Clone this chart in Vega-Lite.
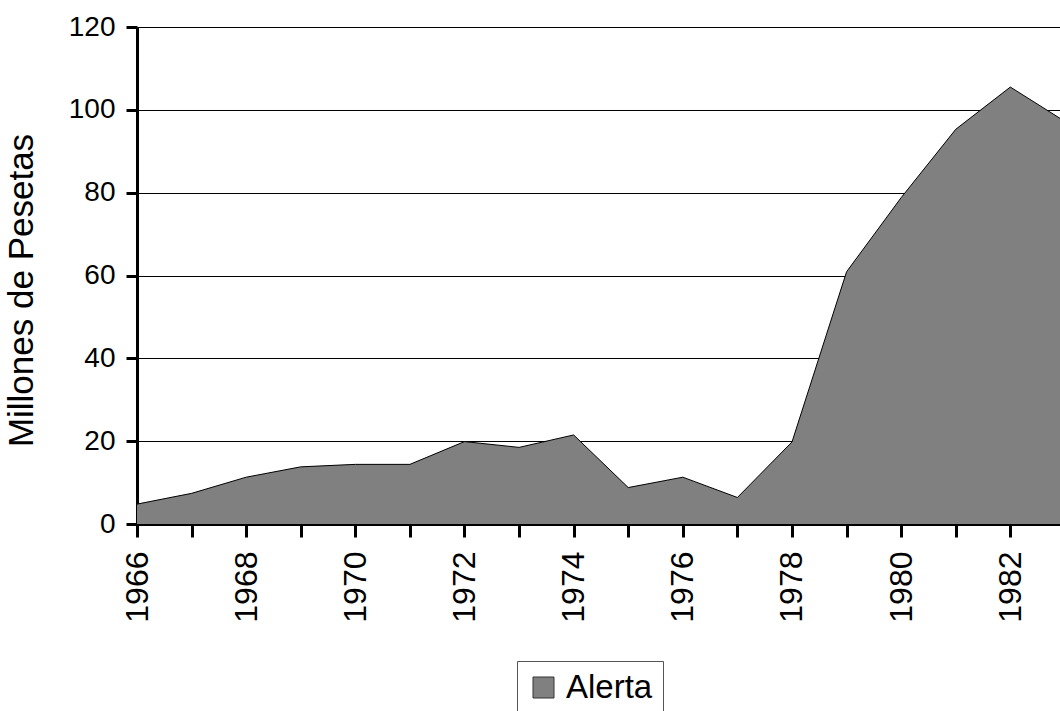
{
  "$schema": "https://vega.github.io/schema/vega-lite/v6.json",
  "autosize": {"type": "none"},
  "padding": {"left": 137, "top": 27, "right": 0, "bottom": 187},
  "width": 923,
  "height": 497,
  "background": "white",
  "config": {
    "view": {"stroke": null},
    "font": "Liberation Sans"
  },
  "data": {
    "values": [
      {"year": 1966, "value": 4.8, "serie": "Alerta"},
      {"year": 1967, "value": 7.4, "serie": "Alerta"},
      {"year": 1968, "value": 11.3, "serie": "Alerta"},
      {"year": 1969, "value": 13.8, "serie": "Alerta"},
      {"year": 1970, "value": 14.4, "serie": "Alerta"},
      {"year": 1971, "value": 14.4, "serie": "Alerta"},
      {"year": 1972, "value": 19.9, "serie": "Alerta"},
      {"year": 1973, "value": 18.5, "serie": "Alerta"},
      {"year": 1974, "value": 21.5, "serie": "Alerta"},
      {"year": 1975, "value": 8.8, "serie": "Alerta"},
      {"year": 1976, "value": 11.3, "serie": "Alerta"},
      {"year": 1977, "value": 6.4, "serie": "Alerta"},
      {"year": 1978, "value": 19.8, "serie": "Alerta"},
      {"year": 1979, "value": 60.9, "serie": "Alerta"},
      {"year": 1980, "value": 78.8, "serie": "Alerta"},
      {"year": 1981, "value": 95.3, "serie": "Alerta"},
      {"year": 1982, "value": 105.5, "serie": "Alerta"},
      {"year": 1983, "value": 97.2, "serie": "Alerta"}
    ]
  },
  "encoding": {
    "x": {
      "field": "year",
      "type": "quantitative",
      "scale": {"domain": [1966, 1982.91], "nice": false, "zero": false},
      "axis": {
        "title": null,
        "values": [1966,1967,1968,1969,1970,1971,1972,1973,1974,1975,1976,1977,1978,1979,1980,1981,1982],
        "format": "d",
        "labelExpr": "datum.value % 2 == 0 ? datum.label : ''",
        "labelAngle": -90,
        "labelAlign": "right",
        "labelBaseline": "middle",
        "labelFontSize": 32,
        "labelColor": "black",
        "labelPadding": 14,
        "labelFont": "Liberation Sans",
        "labelOverlap": false,
        "labelFlush": false,
        "grid": false,
        "domainColor": "black",
        "domainWidth": 3,
        "tickColor": "black",
        "tickWidth": 3,
        "tickSize": 13
      }
    },
    "y": {
      "field": "value",
      "type": "quantitative",
      "scale": {"domain": [0, 120], "nice": false},
      "axis": {
        "title": "Millones de Pesetas",
        "titleFontSize": 35,
        "titleFontWeight": "normal",
        "titleColor": "black",
        "titleFont": "Liberation Sans",
        "titleAngle": -90,
        "titleAlign": "center",
        "titleBaseline": "alphabetic",
        "titleX": -105,
        "titleY": 263,
        "values": [0, 20, 40, 60, 80, 100, 120],
        "labelFontSize": 28,
        "labelColor": "black",
        "labelPadding": 11,
        "labelFont": "Liberation Sans",
        "labelFlush": false,
        "grid": true,
        "gridColor": "black",
        "gridWidth": 1,
        "domainColor": "black",
        "domainWidth": 3,
        "tickColor": "black",
        "tickWidth": 3,
        "tickSize": 11
      }
    }
  },
  "layer": [
    {
      "mark": {"type": "area", "clip": true, "opacity": 1},
      "encoding": {
        "color": {
          "field": "serie",
          "type": "nominal",
          "scale": {"range": ["#808080"]},
          "legend": {
            "title": null,
            "orient": "none",
            "legendX": 380,
            "legendY": 634,
            "direction": "vertical",
            "symbolType": "square",
            "symbolSize": 441,
            "symbolStrokeColor": "#333333",
            "symbolStrokeWidth": 1,
            "symbolOpacity": 1,
            "labelFontSize": 33,
            "labelColor": "black",
            "labelFont": "Liberation Sans",
            "labelOffset": 6,
            "strokeColor": "#555555",
            "padding": 10,
            "fillColor": "white"
          }
        }
      }
    },
    {
      "mark": {"type": "line", "clip": true, "color": "black", "strokeWidth": 1},
      "encoding": {}
    }
  ]
}
